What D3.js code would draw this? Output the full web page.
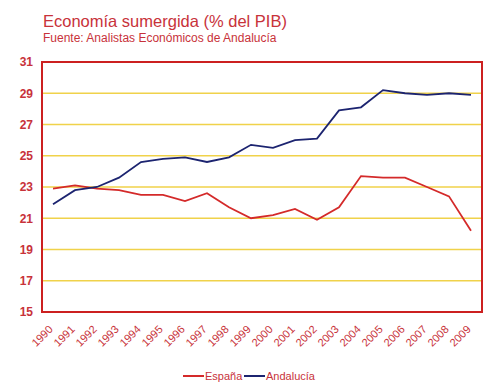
<!DOCTYPE html>
<html><head><meta charset="utf-8">
<script src="https://cdn.jsdelivr.net/npm/d3@7"></script>
<style>body{margin:0;background:#fff;}svg{display:block;font-family:"Liberation Sans",Arial,sans-serif;}</style>
</head><body><div id="chart"></div>
<script>
const years = ["1990","1991","1992","1993","1994","1995","1996","1997","1998","1999","2000","2001","2002","2003","2004","2005","2006","2007","2008","2009"];
const espana = [22.9,23.1,22.9,22.8,22.5,22.5,22.1,22.6,21.7,21.0,21.2,21.6,20.9,21.7,23.7,23.6,23.6,23.0,22.4,20.2];
const andalucia = [21.9,22.8,23.0,23.6,24.6,24.8,24.9,24.6,24.9,25.7,25.5,26.0,26.1,27.9,28.1,29.2,29.0,28.9,29.0,28.9];
const yTicks = [15,17,19,21,23,25,27,29,31];
const seriesNames = ["España","Andalucía"];
const title = "Economía sumergida (% del PIB)";
const subtitle = "Fuente: Analistas Económicos de Andalucía";

const W = 500, H = 389;
const m = {l:42, r:18, t:62, b:77};
const svg = d3.select("#chart").append("svg").attr("width",W).attr("height",H);
const red = "#d42a2a", blue = "#1c2470", lab = "#c8323a";

const x = d3.scalePoint().domain(years).range([m.l, W-m.r]).padding(0.5);
const y = d3.scaleLinear().domain([15,31]).range([H-m.b, m.t]);

svg.append("text").attr("x",43).attr("y",27).attr("fill",lab).attr("font-size",16.5).text(title);
svg.append("text").attr("x",43).attr("y",42).attr("fill",lab).attr("font-size",12).text(subtitle);

// gridlines
svg.append("g").selectAll("line").data(yTicks.filter(d=>d>15 && d<31)).join("line")
  .attr("x1",m.l).attr("x2",W-m.r).attr("y1",d=>y(d)).attr("y2",d=>y(d))
  .attr("stroke","#f0d24a").attr("stroke-width",1.5);

// y axis
const ya = svg.append("g").attr("transform",`translate(${m.l},0)`)
  .call(d3.axisLeft(y).tickValues(yTicks).tickSize(0).tickPadding(9));
ya.select(".domain").remove();
ya.selectAll("text").attr("fill",lab).attr("font-size",12).attr("font-weight","bold")
  .attr("font-family","'Liberation Sans',Arial,sans-serif");

// x axis
const xa = svg.append("g").attr("transform",`translate(0,${H-m.b})`)
  .call(d3.axisBottom(x).tickSize(0).tickPadding(0));
xa.select(".domain").remove();
xa.selectAll("text").attr("fill",lab).attr("font-size",11)
  .attr("font-family","'Liberation Sans',Arial,sans-serif")
  .attr("text-anchor","end").attr("dy",0).attr("dx",0)
  .attr("transform","translate(0,18) rotate(-45)");

// border
svg.append("rect").attr("x",m.l).attr("y",m.t).attr("width",W-m.r-m.l).attr("height",H-m.b-m.t)
  .attr("fill","none").attr("stroke","#cc2020").attr("stroke-width",2);

const line = d3.line().x((d,i)=>x(years[i])).y(d=>y(d));
svg.append("path").datum(espana).attr("d",line).attr("fill","none").attr("stroke",red).attr("stroke-width",1.8);
svg.append("path").datum(andalucia).attr("d",line).attr("fill","none").attr("stroke",blue).attr("stroke-width",1.8);

// legend
const lg = svg.append("g").attr("font-size",11).attr("fill",lab);
const leg = [{name:seriesNames[0],c:red,x:183},{name:seriesNames[1],c:blue,x:244}];
leg.forEach(d=>{
  lg.append("line").attr("x1",d.x).attr("x2",d.x+21).attr("y1",376).attr("y2",376).attr("stroke",d.c).attr("stroke-width",2);
  lg.append("text").attr("x",d.x+22).attr("y",380).attr("fill",lab).text(d.name);
});
</script></body></html>
